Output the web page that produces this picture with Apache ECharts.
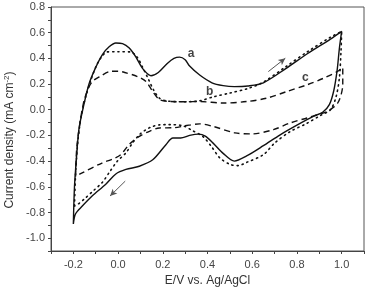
<!DOCTYPE html>
<html>
<head>
<meta charset="utf-8">
<script src="https://cdn.jsdelivr.net/npm/echarts@6/dist/echarts.min.js"></script>
<style>
  html, body { margin: 0; padding: 0; background: #fff; }
  #chart { width: 367px; height: 292px; }
</style>
</head>
<body>
<div id="chart"></div>
<script>
// 曲线数据 [E/V, j]
const curveA = [
  [-0.2, -0.89], [-0.195, -0.6], [-0.185, -0.35], [-0.175, -0.15], [-0.158, 0.0], [-0.13, 0.2],
  [-0.1, 0.33], [-0.07, 0.43], [-0.04, 0.49], [-0.01, 0.52], [0.02, 0.515], [0.05, 0.48],
  [0.08, 0.41], [0.11, 0.32], [0.147, 0.265], [0.18, 0.29], [0.22, 0.36], [0.25, 0.4],
  [0.275, 0.41], [0.3, 0.39], [0.32, 0.34], [0.365, 0.27], [0.42, 0.21], [0.47, 0.188],
  [0.52, 0.18], [0.58, 0.185], [0.65, 0.21], [0.75, 0.32], [0.85, 0.44], [0.95, 0.55], [1.0, 0.61],
  [0.99, 0.48], [0.98, 0.31], [0.965, 0.15], [0.945, 0.04], [0.915, -0.02], [0.875, -0.05],
  [0.8, -0.12], [0.725, -0.195], [0.65, -0.28], [0.575, -0.36], [0.52, -0.4], [0.47, -0.34],
  [0.425, -0.26], [0.39, -0.205], [0.36, -0.19], [0.32, -0.2], [0.28, -0.22], [0.245, -0.22],
  [0.215, -0.27], [0.155, -0.39], [0.095, -0.44], [0.035, -0.465], [-0.01, -0.5], [-0.055, -0.58],
  [-0.115, -0.67], [-0.16, -0.75], [-0.19, -0.81], [-0.2, -0.89]
];
const curveB = [
  [-0.195, -0.75], [-0.19, -0.5], [-0.18, -0.25], [-0.165, -0.05], [-0.145, 0.1], [-0.12, 0.24],
  [-0.095, 0.35], [-0.07, 0.42], [-0.05, 0.45], [0.0, 0.452], [0.055, 0.45], [0.085, 0.41],
  [0.11, 0.33], [0.135, 0.24], [0.16, 0.15], [0.185, 0.09], [0.22, 0.068], [0.3, 0.062],
  [0.365, 0.07], [0.425, 0.1], [0.5, 0.13], [0.58, 0.165], [0.65, 0.215], [0.75, 0.335],
  [0.85, 0.455], [0.95, 0.565], [1.0, 0.61],
  [0.997, 0.45], [0.99, 0.25], [0.975, 0.1], [0.95, 0.0], [0.905, -0.045], [0.84, -0.11],
  [0.77, -0.17], [0.7, -0.26], [0.65, -0.35], [0.575, -0.41], [0.537, -0.435], [0.5, -0.425],
  [0.455, -0.375], [0.417, -0.285], [0.38, -0.21], [0.33, -0.16], [0.29, -0.125], [0.23, -0.116],
  [0.185, -0.118], [0.155, -0.13], [0.125, -0.155], [0.095, -0.195], [0.065, -0.258],
  [0.035, -0.336], [-0.003, -0.4], [-0.04, -0.49], [-0.07, -0.565], [-0.108, -0.627],
  [-0.153, -0.698], [-0.183, -0.74], [-0.195, -0.75]
];
const curveC = [
  [-0.19, -0.52], [-0.185, -0.3], [-0.17, -0.1], [-0.155, 0.05], [-0.135, 0.16], [-0.115, 0.22],
  [-0.08, 0.26], [-0.035, 0.298], [0.0, 0.3], [0.03, 0.29], [0.087, 0.258], [0.125, 0.22],
  [0.155, 0.142], [0.185, 0.08], [0.23, 0.064], [0.3, 0.062], [0.365, 0.064], [0.47, 0.052],
  [0.575, 0.064], [0.665, 0.09], [0.755, 0.142], [0.845, 0.194], [0.92, 0.246], [0.98, 0.297],
  [1.005, 0.33],
  [1.005, 0.2], [0.985, 0.06], [0.94, -0.01], [0.9, -0.035], [0.845, -0.064], [0.77, -0.103],
  [0.695, -0.155], [0.6, -0.188], [0.523, -0.18], [0.425, -0.13], [0.365, -0.11], [0.3, -0.125],
  [0.25, -0.14], [0.185, -0.142], [0.14, -0.168], [0.095, -0.207], [0.05, -0.27], [0.012, -0.35],
  [-0.025, -0.385], [-0.07, -0.413], [-0.17, -0.5], [-0.19, -0.52]
];
// 曲线标注
const curveLabels = [[0.327, 0.44, 'a'], [0.41, 0.142, 'b'], [0.838, 0.253, 'c']];
// 扫描方向箭头
const arrowUp = [[0.672, 0.297], [0.748, 0.401]];
const arrowDown = [[0.032, -0.556], [-0.036, -0.672]];

const myChart = echarts.init(document.getElementById('chart'));

function tickLabel(v) {
  return Math.round(v * 10) % 2 === 0 ? v.toFixed(1) : '';
}

const fontName = 'Liberation Sans, Arial, sans-serif';
const axisFont = { color: '#444', fontSize: 11, fontFamily: fontName };

function arrowLine(pts) {
  return {
    silent: true,
    symbol: ['none', 'arrow'],
    symbolSize: [5, 7],
    label: { show: false },
    lineStyle: { color: '#555', width: 1, type: 'solid' },
    data: [[{ coord: pts[0] }, { coord: pts[1] }]]
  };
}

const option = {
  animation: false,
  grid: {
    left: 51, right: 3, top: 7, bottom: 40,
    show: true, borderColor: '#555', borderWidth: 1
  },
  // y轴标题（带上标）
  graphic: [{
    type: 'text',
    x: 10, y: 140,
    rotation: Math.PI / 2,
    style: {
      text: '{t|Current density (mA cm}{s|-2}{t|)}',
      align: 'center',
      verticalAlign: 'middle',
      rich: {
        t: { fill: '#333', fontSize: 12, fontFamily: fontName },
        s: { fill: '#333', fontSize: 8, fontFamily: fontName, verticalAlign: 'top', padding: [0, 0, 6, 0] }
      }
    }
  }],
  xAxis: {
    type: 'value',
    min: -0.3, max: 1.1, interval: 0.1,
    name: 'E/V vs. Ag/AgCl',
    nameLocation: 'middle',
    nameGap: 24,
    nameTextStyle: { color: '#333', fontSize: 12, fontFamily: fontName },
    axisLine: { onZero: false, lineStyle: { color: '#444' } },
    axisTick: { show: true, length: 3, lineStyle: { color: '#444' } },
    axisLabel: Object.assign({ formatter: tickLabel, margin: 8 }, axisFont),
    splitLine: { show: false }
  },
  yAxis: {
    type: 'value',
    min: -1.1, max: 0.8, interval: 0.1,
    axisLine: { onZero: false, lineStyle: { color: '#444' } },
    axisTick: { show: true, length: 3, lineStyle: { color: '#444' } },
    axisLabel: Object.assign({ formatter: tickLabel, margin: 6 }, axisFont),
    splitLine: { show: false }
  },
  series: [
    {
      name: 'a', type: 'line', data: curveA, showSymbol: false, smooth: 0.3,
      lineStyle: { color: '#111', width: 1.4 },
      markLine: arrowLine(arrowUp)
    },
    {
      name: 'b', type: 'line', data: curveB, showSymbol: false, smooth: 0.3,
      lineStyle: { color: '#111', width: 1.6, type: [1.2, 4], cap: 'round' },
      markLine: arrowLine(arrowDown)
    },
    {
      name: 'c', type: 'line', data: curveC, showSymbol: false, smooth: 0.3,
      lineStyle: { color: '#111', width: 1.4, type: [6, 4] }
    },
    {
      name: 'labels', type: 'scatter', data: curveLabels, symbolSize: 0, silent: true,
      label: {
        show: true, position: 'inside', formatter: p => p.data[2],
        color: '#111', fontSize: 12, fontWeight: 'bold', fontFamily: fontName
      }
    }
  ]
};

myChart.setOption(option);
window.addEventListener('resize', function () {
  myChart.resize();
});
</script>
</body>
</html>
